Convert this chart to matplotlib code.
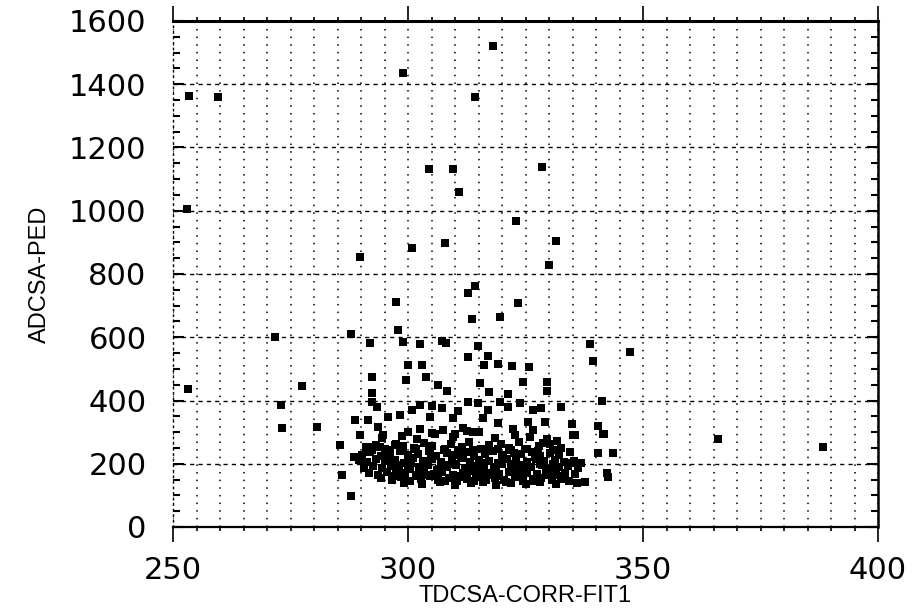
import matplotlib
matplotlib.use("Agg")
import matplotlib.pyplot as plt
from matplotlib.ticker import MultipleLocator

# isolated events, far from the main cluster
sparse_x = [253.4, 259.6, 253.0, 253.2, 318.1, 298.9, 314.3, 304.5, 309.6, 328.5,
            310.9, 323.0, 331.5, 307.9, 300.9, 289.8, 330.0, 314.3, 312.8, 297.4,
            323.4, 313.6, 319.6, 297.9, 271.7, 287.9, 291.9, 298.9, 302.6, 307.2,
            308.0, 314.8, 338.7, 347.2, 312.8, 317.0, 339.4, 300.0, 303.0, 316.2,
            319.1, 322.1, 325.7, 292.3, 299.6, 303.8, 306.4, 277.4, 315.3, 324.5,
            329.6, 308.3, 317.2, 321.3, 329.6, 292.3, 273.0, 341.3, 292.3, 273.2,
            280.7, 340.4, 366.0, 388.3, 285.5, 286.0, 287.9, 342.6, 335.5, 341.6,
            340.4, 343.6, 342.3, 336.8, 334.5, 337.7, 336.0]
sparse_y = [1363, 1359, 1005, 436, 1521, 1435, 1359, 1132, 1132, 1137,
            1059, 967, 904, 898, 882, 854, 828, 762, 740, 711,
            708, 658, 664, 624, 600, 610, 582, 585, 579, 588,
            583, 573, 579, 553, 537, 541, 525, 512, 512, 512,
            515, 509, 506, 474, 465, 474, 449, 446, 455, 458,
            458, 430, 427, 420, 430, 424, 386, 398, 395, 313,
            317, 319, 278, 253, 259, 163, 98, 158, 291, 294,
            234, 234, 171, 202, 202, 142, 139]

# points between the cluster and the outliers
mid_x = [334.9, 332.6, 328.3, 326.6, 323.8, 321.3, 319.6, 317.0, 314.9, 312.8,
         310.6, 307.2, 305.1, 302.6, 300.9, 298.3, 295.7, 293.4, 291.5, 288.7,
         293.6, 289.8, 294.7, 304.7, 309.6, 311.7, 316.0, 319.1, 322.3, 325.5,
         329.1, 331.7, 328.7, 326.6, 291.9, 294.0, 297.2, 292.3, 288.5, 300.0,
         302.5, 305.0, 307.5, 310.0, 312.5, 315.0, 335.1, 340.4, 341.5]
mid_y = [326, 379, 376, 370, 392, 379, 395, 370, 392, 395,
         367, 376, 383, 386, 370, 354, 348, 379, 338, 338,
         316, 291, 291, 348, 345, 313, 345, 329, 310, 332,
         332, 272, 266, 307, 253, 253, 259, 243, 221, 300,
         310, 298, 306, 295, 304, 300, 291, 319, 294]

# dense core, read row by row
core_x = [
    294.5, 298.8, 302.0, 305.8, 309.5, 313.8, 318.5, 322.8, 326.0, 329.6,
    291.0, 293.2, 295.1, 297.4, 299.0, 301.3, 303.5, 305.2, 307.6, 309.1,
    311.4, 313.0, 315.5, 317.2, 319.8, 321.4, 323.6, 325.3, 327.9, 330.2, 332.5,
    290.2, 292.0, 294.3, 296.1, 298.2, 300.0, 302.1, 304.4, 306.0, 308.3,
    310.1, 312.4, 314.0, 316.3, 318.1, 320.2, 322.5, 324.1, 326.4, 328.0,
    330.3, 332.1, 334.4,
    289.5, 291.3, 293.1, 295.0, 297.2, 299.1, 301.0, 303.2, 305.1, 307.0,
    309.3, 311.2, 313.1, 315.0, 317.3, 319.2, 321.1, 323.0, 325.3, 327.2,
    329.0, 331.2, 333.1, 335.3,
    290.6, 292.5, 294.4, 296.3, 298.0, 300.5, 302.4, 304.2, 306.5, 308.4,
    310.2, 312.1, 314.5, 316.2, 318.4, 320.0, 322.3, 324.4, 326.1, 328.5,
    330.3, 332.2, 334.0, 336.2,
    291.8, 293.7, 295.6, 297.5, 299.4, 301.6, 303.4, 305.5, 307.3, 309.5,
    311.6, 313.4, 315.3, 317.5, 319.4, 321.5, 323.3, 325.4, 327.5, 329.4,
    331.5, 333.4, 335.6,
    294.2, 296.5, 298.6, 300.4, 302.7, 304.6, 306.4, 308.7, 310.5, 312.6,
    314.4, 316.7, 318.6, 320.4, 322.7, 324.5, 326.6, 328.3, 330.6, 332.5, 334.3,
    299.2, 303.0, 306.8, 310.0, 313.5, 316.0, 318.8, 322.0, 325.2, 328.0, 331.5,
    296.0, 300.7, 304.9, 308.1, 311.8, 315.6, 319.9, 323.7, 327.1, 330.9,
    297.8, 301.9, 306.2, 310.8, 314.7, 318.9, 323.1, 327.4,
    295.9, 298.9, 301.8, 304.7, 307.9, 310.6, 313.9, 316.8, 319.1, 322.0,
    324.9, 327.7, 330.9,
    297.1, 300.1, 303.9, 306.8, 309.9, 312.9, 315.8, 318.7, 321.9, 324.9,
    328.1, 331.0,
    296.9, 299.9, 303.8, 307.9, 311.0, 314.1, 317.0, 320.8, 323.9, 326.9,
    329.9, 332.9,
]
core_y = [
    282, 289, 278, 295, 284, 300, 280, 292, 286, 279,
    252, 258, 247, 262, 255, 249, 266, 257, 244, 261,
    253, 270, 248, 259, 264, 251, 268, 246, 256, 262, 249,
    228, 236, 225, 233, 239, 227, 231, 240, 224, 235,
    229, 238, 226, 232, 241, 227, 234, 230, 237, 225,
    233, 228, 236,
    212, 205, 216, 208, 213, 203, 218, 209, 214, 204,
    211, 217, 206, 213, 209, 202, 215, 210, 206, 214,
    208, 212, 204, 210,
    188, 194, 185, 192, 197, 186, 191, 196, 183, 190,
    195, 187, 193, 184, 191, 198, 186, 192, 189, 195,
    184, 190, 193, 187,
    172, 166, 175, 168, 171, 164, 176, 169, 173, 165,
    170, 177, 163, 171, 167, 174, 166, 172, 168, 175,
    164, 170, 167,
    155, 150, 158, 147, 153, 160, 149, 155, 146, 152,
    157, 148, 154, 150, 159, 147, 153, 156, 149, 152, 146,
    140, 135, 142, 133, 138, 141, 134, 139, 136, 142, 137,
    218, 201, 222, 196, 219, 199, 223, 197, 220, 200,
    178, 160, 181, 158, 180, 161, 179, 159,
    244, 241, 247, 243, 246, 242, 245, 240, 248, 243,
    246, 241, 244,
    199, 182, 201, 180, 198, 183, 202, 181, 199, 184,
    200, 182,
    162, 145, 163, 144, 161, 146, 164, 143, 162, 145,
    163, 161,
]

x_ticks = [250, 300, 350, 400]
y_ticks = [0, 200, 400, 600, 800, 1000, 1200, 1400, 1600]

fig = plt.figure(figsize=(9.14, 6.13), dpi=100)
ax = fig.add_axes([173 / 914, 1 - 527 / 613, 705 / 914, 506 / 613])

for xs, ys in [(sparse_x, sparse_y), (mid_x, mid_y), (core_x, core_y)]:
    ax.scatter(xs, ys, s=34, marker='s', color='black', linewidths=0, zorder=3)

ax.set_xlim(250, 400)
ax.set_ylim(0, 1600)
ax.set_xticks(x_ticks)
ax.set_yticks(y_ticks)
ax.xaxis.set_minor_locator(MultipleLocator(5))
ax.yaxis.set_minor_locator(MultipleLocator(50))

# grid: dotted verticals every 5, dashed horizontals every 200
ax.grid(which='both', axis='x', color='black', linestyle=(0, (1, 4)), linewidth=1.1)
ax.grid(which='major', axis='y', color='black', linestyle=(0, (3, 3)), linewidth=1.0)
ax.set_axisbelow(True)

ax.tick_params(axis='x', which='both', direction='out', top=True, bottom=True,
               color='black', width=1.2)
ax.tick_params(axis='x', which='major', length=11, pad=10, labelsize=22)
ax.tick_params(axis='x', which='minor', length=3)
ax.tick_params(axis='y', which='both', direction='in', left=True, right=True,
               color='black', width=1.5)
ax.tick_params(axis='y', which='major', length=8, pad=19, labelsize=22)
ax.tick_params(axis='y', which='minor', length=5)
for lab in ax.get_xticklabels() + ax.get_yticklabels():
    lab.set_family('DejaVu Sans')

ax.spines['top'].set_linewidth(2.2)
ax.spines['bottom'].set_linewidth(1.6)
ax.spines['right'].set_linewidth(1.8)
ax.spines['left'].set_linestyle((0, (1, 3)))
ax.spines['left'].set_linewidth(1.0)

ax.set_xlabel("TDCSA-CORR-FIT1", family='Liberation Sans', fontsize=17, labelpad=0)
ax.set_ylabel("ADCSA-PED", family='Liberation Sans', fontsize=17, labelpad=13)

fig.savefig("out.png", dpi=100)
